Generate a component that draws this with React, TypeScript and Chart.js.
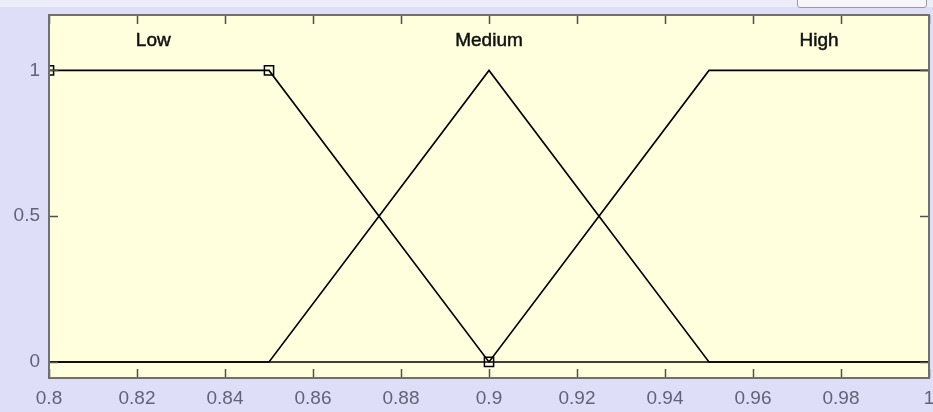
import React, { useEffect, useRef } from "react";
import { Chart, registerables } from "chart.js";

Chart.register(...registerables);

// ---- data ----
const lowX = [0.8, 0.85, 0.9, 1.0];
const lowY = [1, 1, 0, 0];
const mediumX = [0.8, 0.85, 0.9, 0.95, 1.0];
const mediumY = [0, 0, 1, 0, 0];
const highX = [0.8, 0.9, 0.95, 1.0];
const highY = [0, 0, 1, 1];
const lowVertexX = [0.8, 0.85, 0.9];
const lowVertexY = [1, 1, 0];

const mfLabels = ["Low", "Medium", "High"];
const mfLabelX = [0.8237, 0.9, 0.975];
const mfLabelY = [1.1, 1.1, 1.1];

const xTicks = [0.8, 0.82, 0.84, 0.86, 0.88, 0.9, 0.92, 0.94, 0.96, 0.98, 1.0];
const xTickLabels = ["0.8", "0.82", "0.84", "0.86", "0.88", "0.9", "0.92", "0.94", "0.96", "0.98", "1"];
const yTicks = [0, 0.5, 1];
const yTickLabels = ["0", "0.5", "1"];

const pts = (xs: number[], ys: number[]) => xs.map((x, i) => ({ x, y: ys[i] }));

const FONT = "'Liberation Sans', Arial, sans-serif";

const framePlugin = {
  id: "matlabFrame",
  beforeDatasetsDraw(chart: any) {
    const { ctx, chartArea: a } = chart;
    ctx.save();
    ctx.fillStyle = "#FFFFDD";
    ctx.fillRect(a.left, a.top, a.right - a.left, a.bottom - a.top);
    ctx.restore();
  },
  afterDraw(chart: any) {
    const { ctx, chartArea: a, scales } = chart;
    const xs = scales.x;
    const ys = scales.y;
    ctx.save();
    // tick marks (inward)
    ctx.strokeStyle = "#505050";
    ctx.lineWidth = 1.5;
    const tl = 9;
    ctx.beginPath();
    xTicks.forEach((v) => {
      const px = Math.round(xs.getPixelForValue(v)) + 0.5;
      ctx.moveTo(px, a.bottom);
      ctx.lineTo(px, a.bottom - tl);
      ctx.moveTo(px, a.top);
      ctx.lineTo(px, a.top + tl);
    });
    yTicks.forEach((v) => {
      const py = Math.round(ys.getPixelForValue(v)) + 0.5;
      ctx.moveTo(a.left, py);
      ctx.lineTo(a.left + tl, py);
      ctx.moveTo(a.right, py);
      ctx.lineTo(a.right - tl, py);
    });
    ctx.stroke();
    // frame
    ctx.strokeStyle = "#707070";
    ctx.lineWidth = 2;
    ctx.strokeRect(a.left, a.top, a.right - a.left, a.bottom - a.top);
    // MF labels
    ctx.fillStyle = "#111111";
    ctx.strokeStyle = "#111111";
    ctx.lineWidth = 0.5;
    ctx.font = `19px ${FONT}`;
    ctx.textAlign = "center";
    ctx.textBaseline = "middle";
    mfLabels.forEach((t, i) => {
      const px = xs.getPixelForValue(mfLabelX[i]);
      const py = ys.getPixelForValue(mfLabelY[i]);
      ctx.fillText(t, px, py);
      ctx.strokeText(t, px, py);
    });
    ctx.restore();
  },
};

export default function App() {
  const ref = useRef<HTMLCanvasElement | null>(null);
  useEffect(() => {
    if (!ref.current) return;
    const lineDs = (data: any) => ({
      data,
      showLine: true,
      borderColor: "#000000",
      borderWidth: 1.6,
      pointRadius: 0,
      tension: 0,
      fill: false,
    });
    const chart = new Chart(ref.current, {
      type: "scatter",
      data: {
        datasets: [
          { label: "Low", ...lineDs(pts(lowX, lowY)) },
          { label: "Medium", ...lineDs(pts(mediumX, mediumY)) },
          { label: "High", ...lineDs(pts(highX, highY)) },
          {
            label: "Low vertices",
            data: pts(lowVertexX, lowVertexY),
            showLine: false,
            pointStyle: "rect",
            pointRadius: 6.5,
            pointBorderWidth: 1.5,
            pointBorderColor: "#000000",
            pointBackgroundColor: "rgba(0,0,0,0)",
            clip: 0,
          } as any,
        ],
      },
      options: {
        responsive: false,
        animation: false,
        layout: { autoPadding: false, padding: { top: 15, right: 4, left: 0, bottom: 0 } },
        plugins: { legend: { display: false }, tooltip: { enabled: false } },
        scales: {
          x: {
            type: "linear",
            min: 0.8,
            max: 1.0,
            grid: { display: false, drawTicks: false },
            border: { display: false },
            afterBuildTicks: (s: any) => {
              s.ticks = xTicks.map((v) => ({ value: v }));
            },
            afterFit: (s: any) => {
              s.height = 34;
              s.paddingLeft = 0;
              s.paddingRight = 0;
            },
            ticks: {
              autoSkip: false,
              maxRotation: 0,
              padding: 9,
              color: "#62627a",
              font: { family: FONT, size: 19 },
              callback: (_v: any, i: number) => xTickLabels[i],
            },
          },
          y: {
            type: "linear",
            min: -0.055,
            max: 1.19,
            grid: { display: false, drawTicks: false },
            border: { display: false },
            afterBuildTicks: (s: any) => {
              s.ticks = yTicks.map((v) => ({ value: v }));
            },
            afterFit: (s: any) => {
              s.width = 49;
              s.paddingTop = 0;
              s.paddingBottom = 0;
            },
            ticks: {
              padding: 9,
              color: "#62627a",
              font: { family: FONT, size: 19 },
              callback: (_v: any, i: number) => yTickLabels[i],
            },
          },
        },
      },
      plugins: [framePlugin],
    } as any);
    return () => chart.destroy();
  }, []);

  return (
    <div
      style={{
        position: "fixed",
        left: 0,
        top: 0,
        width: 933,
        height: 412,
        background: "#DEDEF8",
        overflow: "hidden",
      }}
    >
      <div style={{ position: "absolute", left: 0, top: 0, width: 933, height: 7, background: "#EDEDF9" }} />
      <div
        style={{
          position: "absolute",
          left: 797,
          top: -3,
          width: 128,
          height: 9,
          background: "#F6F6FA",
          border: "1px solid #9a9aa4",
          borderRadius: 3,
        }}
      />
      <canvas ref={ref} width={933} height={412} style={{ position: "absolute", left: 0, top: 0 }} />
    </div>
  );
}
